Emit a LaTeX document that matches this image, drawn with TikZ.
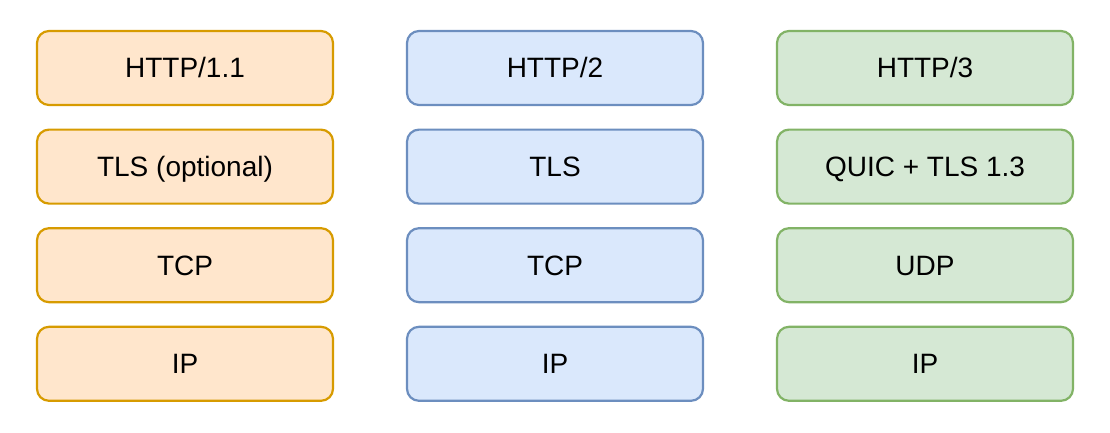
\documentclass[tikz,border=0pt]{standalone}
\usepackage{fontspec}
\setmainfont{Liberation Sans}
\usetikzlibrary{
  positioning
}
\definecolor{oneFill}{HTML}{FFE6CC}
\definecolor{oneLine}{HTML}{D79B00}
\definecolor{twoFill}{HTML}{DAE8FC}
\definecolor{twoLine}{HTML}{6C8EBF}
\definecolor{threeFill}{HTML}{D5E8D4}
\definecolor{threeLine}{HTML}{82B366}
\tikzset{
  layer/.style={
    draw,
    line width=2.2pt,
    rounded corners=12pt,
    minimum width=296pt,
    minimum height=74pt,
    inner sep=0pt,
    outer sep=0pt,
    text height=20pt,
    text depth=0pt,
    font=\fontsize{28}{34}\selectfont
  },
  httpone/.style={layer, fill=oneFill, draw=oneLine},
  httptwo/.style={layer, fill=twoFill, draw=twoLine},
  httpthree/.style={layer, fill=threeFill, draw=threeLine}
}

\begin{document}
\begin{tikzpicture}[
    node distance=24.6pt and 74pt
    ]
  \useasboundingbox (0,0) rectangle (1110pt,432pt);
  % HTTP/1.1 stack
  \node[httpone] (oneapp) at (185pt,364pt) {HTTP/1.1};
  \node[httpone, below=of oneapp] (onetls) {TLS (optional)};
  \node[httpone, below=of onetls] (onetcp) {TCP};
  \node[httpone, below=of onetcp] (oneip) {IP};
  % HTTP/2 stack
  \node[httptwo, right=of oneapp] (twoapp) {HTTP/2};
  \node[httptwo, below=of twoapp] (twotls) {TLS};
  \node[httptwo, below=of twotls] (twotcp) {TCP};
  \node[httptwo, below=of twotcp] (twoip) {IP};
  % HTTP/3 stack
  \node[httpthree, right=of twoapp] (threeapp) {HTTP/3};
  \node[httpthree, below=of threeapp] (threequic) {QUIC + TLS 1.3};
  \node[httpthree, below=of threequic] (threeudp) {UDP};
  \node[httpthree, below=of threeudp] (threeip) {IP};
\end{tikzpicture}
\end{document}
